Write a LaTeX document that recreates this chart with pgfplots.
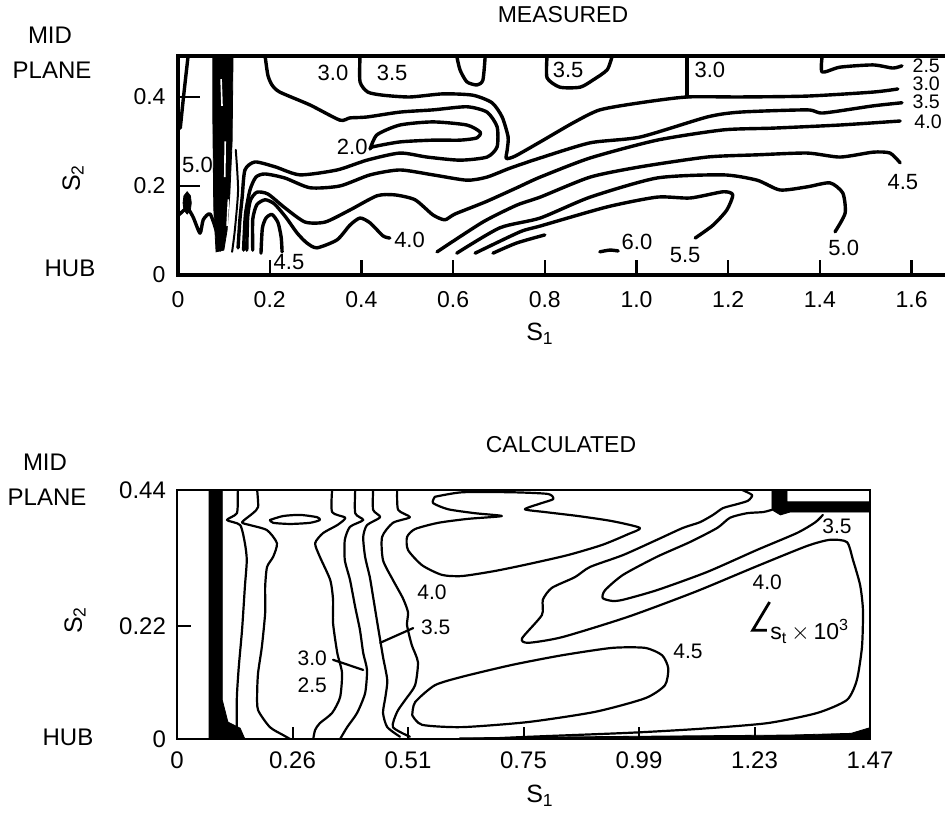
\documentclass[border=0pt]{standalone}
\usepackage{fontspec}
\setmainfont{Liberation Sans}
\usepackage{pgfplots}
\pgfplotsset{compat=1.18}
\pgfplotsset{
  ct/.style={black, line width=1.7pt, no markers, smooth, tension=0.4, line join=round, line cap=round},
  cb/.style={black, line width=1.1pt, no markers, smooth, tension=0.4, line join=round, line cap=round},
  blk/.style={fill=black, draw=black, line width=0.4pt, no markers},
}
\begin{document}
\begin{tikzpicture}[font=\fontsize{10}{11}\selectfont]
\useasboundingbox (0,0) rectangle (472.5pt,409pt);
% ---------------- MEASURED ----------------
\begin{axis}[
  at={(89pt,271.5pt)}, anchor=south west, scale only axis,
  width=386pt, height=109.5pt,
  xmin=0, xmax=1.6838, ymin=0, ymax=0.4921,
  axis line style={line width=1.6pt},
  xtick={0,0.2,0.4,0.6,0.8,1.0,1.2,1.4,1.6},
  xticklabels={0,0.2,0.4,0.6,0.8,1.0,1.2,1.4,1.6},
  ytick={0,0.2,0.4}, yticklabels={0,0.2,0.4},
  tick align=inside, xtick pos=left, ytick pos=left,
  major tick length=7.5pt,
  xtick style={line width=1.2pt, black},
  ytick style={draw=none},
  tick label style={font=\fontsize{11.5}{12}\selectfont},
  xticklabel style={yshift=-4.6pt},
  yticklabel style={xshift=-2.7pt},
  /pgf/number format/assume math mode=true,
]
% dense band near s1 = 0.1
\addplot[blk] coordinates {(0.076,0.492) (0.120,0.492) (0.118,0.300) (0.113,0.180) (0.107,0.100) (0.100,0.056) (0.083,0.052) (0.078,0.150) (0.076,0.350)} --cycle;
\addplot[white, line width=0.8pt, no markers] coordinates {(0.094,0.44) (0.096,0.38)};
\addplot[white, line width=0.8pt, no markers] coordinates {(0.103,0.30) (0.102,0.22)};
\addplot[white, line width=0.8pt, no markers] coordinates {(0.110,0.17) (0.107,0.11)};
\addplot[blk] coordinates {(0.020,0.187) (0.027,0.178) (0.029,0.162) (0.027,0.146) (0.020,0.137) (0.013,0.146) (0.011,0.162) (0.013,0.178)} --cycle;
\addplot[ct] coordinates {(0.022,0.492) (0.012,0.400) (0.005,0.330)};
\addplot[ct] coordinates {(0.002,0.135) (0.020,0.150) (0.033,0.130) (0.048,0.094) (0.055,0.124) (0.070,0.137) (0.085,0.094) (0.092,0.056)};
\addplot[ct, line width=1pt] coordinates {(0.126,0.281) (0.131,0.191) (0.124,0.101) (0.118,0.052)};
% contours
\addplot[ct] coordinates {(0.190,0.492) (0.196,0.449) (0.205,0.427) (0.222,0.411) (0.288,0.382) (0.353,0.348) (0.375,0.353) (0.412,0.355) (0.484,0.366) (0.556,0.371) (0.630,0.378) (0.674,0.366) (0.696,0.333) (0.696,0.288) (0.674,0.265) (0.615,0.258) (0.543,0.265) (0.484,0.274) (0.412,0.258) (0.347,0.236) (0.266,0.225) (0.212,0.243) (0.168,0.254) (0.146,0.236) (0.140,0.175) (0.135,0.124) (0.131,0.061)};
\addplot[ct] coordinates {(0.419,0.283) (0.434,0.315) (0.484,0.337) (0.556,0.344) (0.630,0.337) (0.659,0.321) (0.652,0.308) (0.615,0.303) (0.556,0.303) (0.484,0.299) (0.425,0.288) (0.419,0.283)};
\addplot[ct] coordinates {(0.397,0.492) (0.397,0.434) (0.414,0.411) (0.447,0.404) (0.506,0.400) (0.578,0.407) (0.643,0.404) (0.685,0.387) (0.707,0.355) (0.720,0.310) (0.718,0.281) (0.716,0.262) (0.735,0.267) (0.790,0.299) (0.862,0.342) (0.920,0.371) (1.008,0.387) (1.110,0.400) (1.226,0.400) (1.372,0.402) (1.516,0.411) (1.570,0.418)};
\addplot[ct] coordinates {(1.110,0.492) (1.110,0.400)};
\addplot[ct] coordinates {(0.143,0.056) (0.147,0.135) (0.157,0.191) (0.170,0.220) (0.190,0.227) (0.233,0.218) (0.288,0.196) (0.353,0.200) (0.419,0.225) (0.484,0.236) (0.556,0.225) (0.630,0.213) (0.674,0.220) (0.724,0.240) (0.790,0.263) (0.899,0.297) (1.008,0.310) (1.154,0.355) (1.226,0.366) (1.372,0.371) (1.407,0.364) (1.516,0.380) (1.579,0.387)};
\addplot[ct] coordinates {(0.150,0.056) (0.152,0.130) (0.158,0.168) (0.172,0.186) (0.196,0.182) (0.233,0.151) (0.277,0.119) (0.321,0.119) (0.375,0.146) (0.434,0.178) (0.473,0.180) (0.517,0.169) (0.556,0.135) (0.582,0.124) (0.604,0.137) (0.670,0.164) (0.739,0.196) (0.790,0.220) (0.899,0.263) (1.045,0.303) (1.189,0.326) (1.298,0.330) (1.444,0.337) (1.575,0.346)};
\addplot[ct] coordinates {(0.163,0.056) (0.163,0.125) (0.172,0.158) (0.190,0.169) (0.210,0.160) (0.235,0.130) (0.260,0.094) (0.281,0.072) (0.303,0.061) (0.347,0.079) (0.375,0.112) (0.397,0.128) (0.419,0.117) (0.447,0.088) (0.462,0.083)};
\addplot[ct] coordinates {(0.181,0.049) (0.184,0.105) (0.192,0.128) (0.205,0.136) (0.218,0.118) (0.225,0.085) (0.227,0.052)};
\addplot[ct] coordinates {(0.805,0.492) (0.805,0.443) (0.833,0.422) (0.877,0.422) (0.905,0.438) (0.936,0.461) (0.947,0.492)};
\addplot[ct] coordinates {(0.608,0.492) (0.615,0.461) (0.630,0.434) (0.652,0.427) (0.665,0.438) (0.670,0.492)};
\addplot[ct] coordinates {(1.405,0.492) (1.405,0.456) (1.444,0.467) (1.516,0.472) (1.559,0.465) (1.579,0.470)};
\addplot[ct] coordinates {(0.565,0.052) (0.665,0.119) (0.739,0.157) (0.790,0.175) (0.899,0.220) (1.008,0.243) (1.154,0.265) (1.263,0.270) (1.372,0.274) (1.444,0.265) (1.516,0.276) (1.553,0.274) (1.575,0.252)};
\addplot[ct] coordinates {(0.608,0.049) (0.702,0.106) (0.790,0.128) (0.899,0.175) (1.045,0.218) (1.189,0.225) (1.263,0.213) (1.313,0.191) (1.372,0.198) (1.422,0.207) (1.450,0.184) (1.455,0.139) (1.433,0.097)};
\addplot[ct] coordinates {(0.648,0.049) (0.746,0.097) (0.790,0.110) (0.936,0.153) (1.045,0.175) (1.117,0.173) (1.189,0.187) (1.210,0.180) (1.197,0.146) (1.167,0.112) (1.128,0.083)};
\addplot[ct] coordinates {(0.687,0.049) (0.739,0.072) (0.800,0.090)};
\addplot[ct] coordinates {(0.920,0.052) (0.942,0.056) (0.960,0.054)};
% y ticks
\draw[line width=1.2pt] (axis cs:0,0.4) -- ++(11pt,0);
\draw[line width=1.2pt] (axis cs:0,0.2) -- ++(11pt,0);
% labels
\begin{scope}[every node/.style={font=\fontsize{11}{12}\selectfont, inner sep=0.5pt}]
\node at (axis cs:0.338,0.454) {3.0};
\node at (axis cs:0.467,0.454) {3.5};
\node at (axis cs:0.380,0.288) {2.0};
\node[anchor=west] at (axis cs:0.006,0.247) {5.0};
\node at (axis cs:0.505,0.079) {4.0};
\node at (axis cs:0.242,0.029) {4.5};
\node at (axis cs:0.851,0.461) {3.5};
\node at (axis cs:1.160,0.461) {3.0};
\node at (axis cs:1.581,0.209) {4.5};
\node at (axis cs:1.001,0.074) {6.0};
\node at (axis cs:1.106,0.045) {5.5};
\node at (axis cs:1.452,0.061) {5.0};
\end{scope}
\begin{scope}[every node/.style={font=\fontsize{9.8}{10}\selectfont, inner sep=0.3pt}]
\node at (axis cs:1.632,0.471) {2.5};
\node at (axis cs:1.632,0.430) {3.0};
\node at (axis cs:1.632,0.389) {3.5};
\node at (axis cs:1.636,0.344) {4.0};
\end{scope}
\end{axis}
% ---------------- CALCULATED ----------------
\begin{axis}[
  at={(88.5pt,39.5pt)}, anchor=south west, scale only axis,
  width=346.5pt, height=124.5pt,
  xmin=0, xmax=1.47, ymin=0, ymax=0.44,
  axis line style={line width=1.4pt},
  xtick={0,0.245,0.49,0.735,0.98,1.225,1.47},
  xticklabels={0,0.26,0.51,0.75,0.99,1.23,1.47},
  ytick={0,0.2,0.44}, yticklabels={0,0.22,0.44},
  tick align=inside, xtick pos=left, ytick pos=left,
  major tick length=6pt,
  xtick style={line width=1pt, black},
  ytick style={draw=none},
  tick label style={font=\fontsize{12}{13}\selectfont},
  xticklabel style={yshift=-2.8pt},
  yticklabel style={xshift=-2pt},
  /pgf/number format/assume math mode=true,
]
\addplot[blk] coordinates {(0.068,0.440) (0.096,0.440) (0.096,0.069) (0.108,0.030) (0.134,0.019) (0.144,0) (0.068,0)} --cycle;
\addplot[blk] coordinates {(1.262,0.440) (1.294,0.440) (1.294,0.419) (1.470,0.419) (1.470,0.401) (1.300,0.401) (1.280,0.396) (1.262,0.405)} --cycle;
\addplot[blk] coordinates {(0.600,0) (1.470,0) (1.470,0.020) (1.430,0.010) (1.300,0.007) (1.000,0.005) (0.600,0.002)} --cycle;
\addplot[cb] coordinates {(0.129,0.440) (0.129,0.431) (0.127,0.399) (0.106,0.387) (0.134,0.378) (0.144,0.346) (0.148,0.316) (0.144,0.269) (0.138,0.193) (0.131,0.127) (0.127,0.074) (0.127,0.021) (0.134,0)};
\addplot[cb] coordinates {(0.170,0.440) (0.172,0.410) (0.161,0.399) (0.138,0.383) (0.155,0.378) (0.191,0.369) (0.212,0.346) (0.204,0.322) (0.191,0.304) (0.187,0.269) (0.187,0.223) (0.180,0.163) (0.172,0.117) (0.170,0.081) (0.172,0.051) (0.197,0.021) (0.225,0.007) (0.240,0)};
\addplot[cb] coordinates {(0.197,0.387) (0.225,0.394) (0.261,0.396) (0.297,0.392) (0.303,0.387) (0.282,0.382) (0.240,0.380) (0.204,0.382) (0.197,0.387)};
\addplot[cb] coordinates {(0.329,0.440) (0.329,0.401) (0.357,0.391) (0.340,0.378) (0.310,0.364) (0.293,0.346) (0.303,0.322) (0.325,0.281) (0.331,0.246) (0.331,0.205) (0.340,0.152) (0.350,0.117) (0.346,0.074) (0.329,0.046) (0.303,0.028) (0.293,0.016) (0.289,0)};
\addplot[cb] coordinates {(0.378,0.440) (0.378,0.399) (0.395,0.387) (0.367,0.375) (0.356,0.352) (0.356,0.316) (0.367,0.281) (0.378,0.233) (0.388,0.193) (0.395,0.152) (0.403,0.122) (0.399,0.081) (0.382,0.046) (0.361,0.021) (0.346,0)};
\addplot[cb] coordinates {(0.416,0.440) (0.416,0.405) (0.431,0.392) (0.403,0.378) (0.395,0.357) (0.399,0.322) (0.409,0.286) (0.416,0.251) (0.424,0.210) (0.431,0.175) (0.437,0.145) (0.446,0.104) (0.442,0.074) (0.437,0.046) (0.446,0.021) (0.473,0.004)};
\addplot[cb] coordinates {(0.467,0.440) (0.469,0.405) (0.494,0.392) (0.458,0.382) (0.435,0.357) (0.437,0.316) (0.458,0.281) (0.479,0.249) (0.490,0.224) (0.488,0.201) (0.498,0.166) (0.511,0.136) (0.505,0.095) (0.484,0.069) (0.467,0.048) (0.458,0.021) (0.494,0.004)};
\addplot[cb] coordinates {(0.331,0.140) (0.395,0.122)};
\addplot[cb] coordinates {(0.431,0.170) (0.501,0.196)};
\addplot[cb] coordinates {(0.547,0.428) (0.605,0.436) (0.711,0.436) (0.787,0.433) (0.798,0.424) (0.774,0.417) (0.738,0.406) (0.781,0.401) (0.851,0.394) (0.923,0.385) (0.982,0.373) (0.957,0.362) (0.902,0.343) (0.829,0.325) (0.745,0.309) (0.675,0.297) (0.605,0.288) (0.562,0.290) (0.520,0.307) (0.490,0.334) (0.488,0.357) (0.505,0.371) (0.554,0.382) (0.617,0.389) (0.689,0.394) (0.632,0.399) (0.575,0.406) (0.543,0.417) (0.547,0.428)};
\addplot[cb] coordinates {(1.199,0.440) (1.220,0.431) (1.211,0.421) (1.188,0.415) (1.158,0.408) (1.137,0.396) (1.109,0.383) (1.073,0.373) (1.018,0.352) (0.946,0.325) (0.876,0.304) (0.844,0.286) (0.795,0.267) (0.776,0.246) (0.774,0.219) (0.732,0.178) (0.745,0.170) (0.817,0.180) (0.957,0.216) (1.099,0.260) (1.226,0.304) (1.336,0.341) (1.385,0.352) (1.421,0.348) (1.434,0.316) (1.449,0.272) (1.455,0.228) (1.453,0.163) (1.442,0.104) (1.421,0.069) (1.358,0.046) (1.252,0.028) (1.109,0.018) (0.961,0.011) (0.749,0.004) (0.643,0)};
\addplot[cb] coordinates {(1.262,0.405) (1.243,0.401) (1.209,0.399) (1.173,0.391) (1.146,0.373) (1.088,0.348) (1.018,0.322) (0.946,0.290) (0.908,0.263) (0.903,0.249) (0.923,0.244) (0.946,0.246) (1.018,0.263) (1.124,0.295) (1.230,0.334) (1.315,0.364) (1.354,0.383) (1.370,0.396)};
\addplot[cb] coordinates {(0.499,0.042) (0.505,0.065) (0.547,0.095) (0.605,0.110) (0.711,0.131) (0.817,0.148) (0.923,0.161) (0.993,0.161) (1.029,0.148) (1.042,0.125) (1.035,0.095) (0.993,0.072) (0.887,0.048) (0.745,0.030) (0.605,0.021) (0.520,0.025) (0.499,0.042)};
\addplot[black, line width=1.4pt, no markers] coordinates {(1.257,0.242) (1.221,0.192) (1.251,0.192)};
\draw[line width=1pt] (axis cs:0,0.2) -- ++(7pt,0);
\begin{scope}[every node/.style={font=\fontsize{10.5}{11}\selectfont, inner sep=0.5pt}]
\node at (axis cs:0.541,0.260) {4.0};
\node at (axis cs:0.549,0.198) {3.5};
\node at (axis cs:0.287,0.143) {3.0};
\node at (axis cs:0.287,0.095) {2.5};
\node at (axis cs:1.084,0.154) {4.5};
\node at (axis cs:1.400,0.376) {3.5};
\node at (axis cs:1.252,0.277) {4.0};
\node[font=\fontsize{11.5}{12}\selectfont] at (axis cs:1.342,0.190) {s\textsubscript{t}\,${\times}$\,10\textsuperscript{3}};
\end{scope}
\end{axis}
% ---------------- outer text ----------------
\node at (281.5pt,401.5pt) {\fontsize{11.5}{12}\selectfont MEASURED};
\node at (280.5pt,186.5pt) {\fontsize{11.5}{12}\selectfont CALCULATED};
\node at (25pt,391.5pt) {\fontsize{12}{13}\selectfont MID};
\node at (26pt,374pt) {\fontsize{12}{13}\selectfont PLANE};
\node at (35pt,275pt) {\fontsize{12}{13}\selectfont HUB};
\node[rotate=90] at (36.5pt,320pt) {\fontsize{12.5}{13}\selectfont S\textsubscript{2}};
\node at (270pt,242pt) {\fontsize{12.5}{13}\selectfont S\textsubscript{1}};
\node at (22.5pt,178pt) {\fontsize{12}{13}\selectfont MID};
\node at (23.5pt,160.5pt) {\fontsize{12}{13}\selectfont PLANE};
\node at (34pt,40.5pt) {\fontsize{12}{13}\selectfont HUB};
\node[rotate=90] at (37.5pt,99pt) {\fontsize{12.5}{13}\selectfont S\textsubscript{2}};
\node at (270pt,11pt) {\fontsize{12.5}{13}\selectfont S\textsubscript{1}};
\end{tikzpicture}
\end{document}
